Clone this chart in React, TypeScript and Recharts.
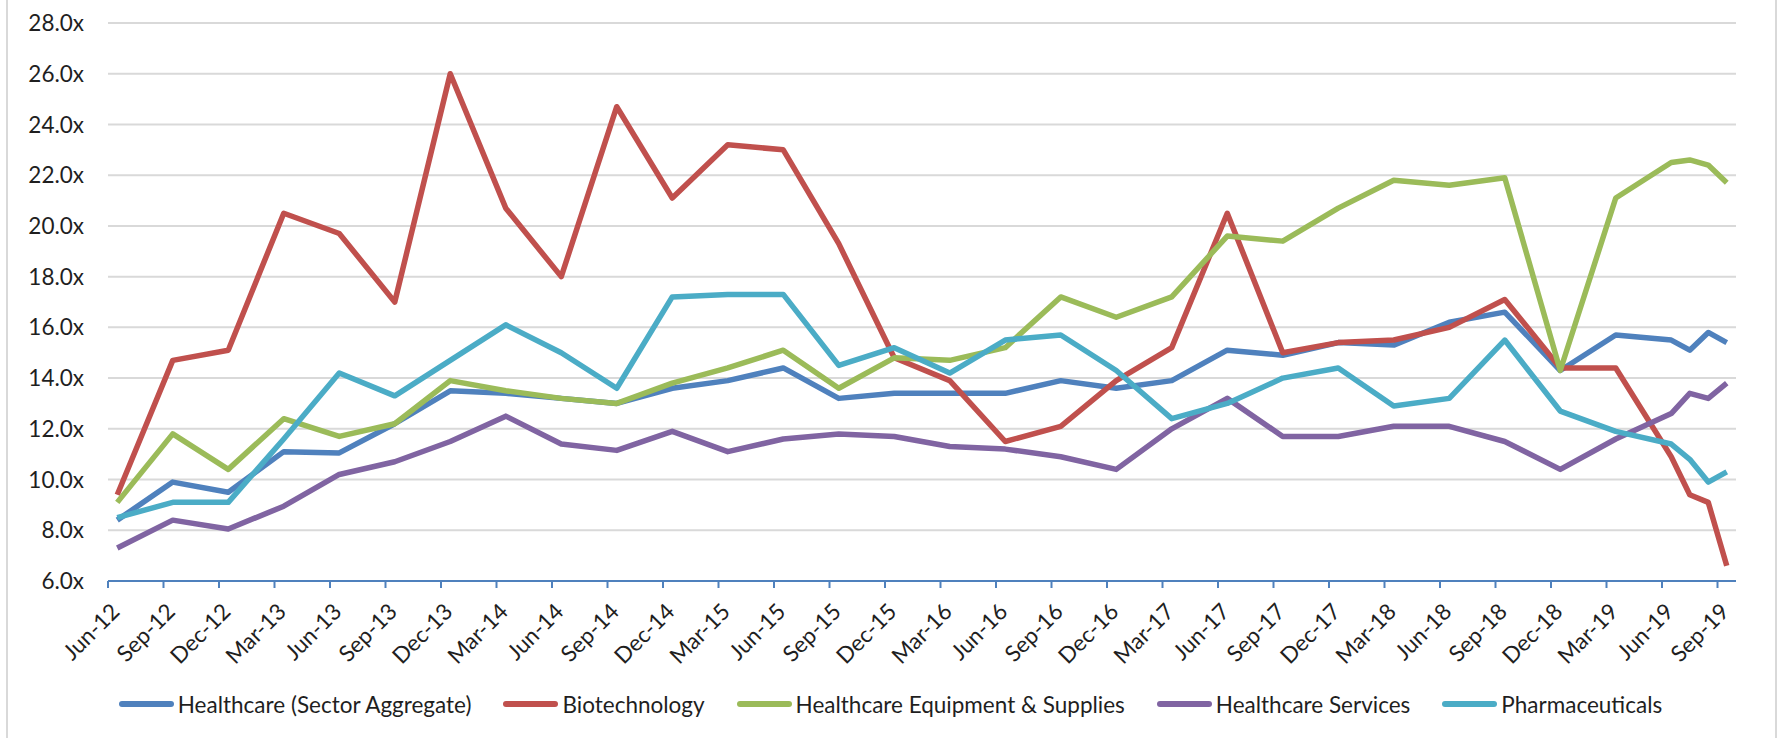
import React from 'react';
import { LineChart, Line, XAxis, YAxis, CartesianGrid } from 'recharts';

// Period labels (quarter ends, then monthly for Jul–Sep 2019)
const periods = [
  'Jun-12', 'Sep-12', 'Dec-12', 'Mar-13', 'Jun-13', 'Sep-13', 'Dec-13', 'Mar-14',
  'Jun-14', 'Sep-14', 'Dec-14', 'Mar-15', 'Jun-15', 'Sep-15', 'Dec-15', 'Mar-16',
  'Jun-16', 'Sep-16', 'Dec-16', 'Mar-17', 'Jun-17', 'Sep-17', 'Dec-17', 'Mar-18',
  'Jun-18', 'Sep-18', 'Dec-18', 'Mar-19', 'Jun-19', 'Jul-19', 'Aug-19', 'Sep-19',
];

const tickLabels = [
  'Jun-12', 'Sep-12', 'Dec-12', 'Mar-13', 'Jun-13', 'Sep-13', 'Dec-13', 'Mar-14',
  'Jun-14', 'Sep-14', 'Dec-14', 'Mar-15', 'Jun-15', 'Sep-15', 'Dec-15', 'Mar-16',
  'Jun-16', 'Sep-16', 'Dec-16', 'Mar-17', 'Jun-17', 'Sep-17', 'Dec-17', 'Mar-18',
  'Jun-18', 'Sep-18', 'Dec-18', 'Mar-19', 'Jun-19', 'Sep-19',
];

const healthcare = [8.4, 9.9, 9.5, 11.1, 11.05, 12.2, 13.5, 13.4, 13.2, 13.0, 13.6, 13.9, 14.4, 13.2, 13.4, 13.4, 13.4, 13.9, 13.6, 13.9, 15.1, 14.9, 15.4, 15.3, 16.2, 16.6, 14.3, 15.7, 15.5, 15.1, 15.8, 15.4];
const biotech = [9.4, 14.7, 15.1, 20.5, 19.7, 17.0, 26.0, 20.7, 18.0, 24.7, 21.1, 23.2, 23.0, 19.3, 14.8, 13.9, 11.5, 12.1, 13.9, 15.2, 20.5, 15.0, 15.4, 15.5, 16.0, 17.1, 14.4, 14.4, 10.9, 9.4, 9.1, 6.6];
const equipment = [9.1, 11.8, 10.4, 12.4, 11.7, 12.2, 13.9, 13.5, 13.2, 13.0, 13.8, 14.4, 15.1, 13.6, 14.8, 14.7, 15.2, 17.2, 16.4, 17.2, 19.6, 19.4, 20.7, 21.8, 21.6, 21.9, 14.3, 21.1, 22.5, 22.6, 22.4, 21.7];
const services = [7.3, 8.4, 8.05, 8.95, 10.2, 10.7, 11.5, 12.5, 11.4, 11.15, 11.9, 11.1, 11.6, 11.8, 11.7, 11.3, 11.2, 10.9, 10.4, 12.0, 13.2, 11.7, 11.7, 12.1, 12.1, 11.5, 10.4, 11.6, 12.6, 13.4, 13.2, 13.8];
const pharma = [8.5, 9.1, 9.1, 11.6, 14.2, 13.3, 14.7, 16.1, 15.0, 13.6, 17.2, 17.3, 17.3, 14.5, 15.2, 14.2, 15.5, 15.7, 14.3, 12.4, 13.0, 14.0, 14.4, 12.9, 13.2, 15.5, 12.7, 11.9, 11.4, 10.8, 9.9, 10.3];

const yTicks = [6, 8, 10, 12, 14, 16, 18, 20, 22, 24, 26, 28];

const series = [
  { key: 'healthcare', name: 'Healthcare (Sector Aggregate)', color: '#4f81bd', values: healthcare },
  { key: 'biotech', name: 'Biotechnology', color: '#c0504d', values: biotech },
  { key: 'equipment', name: 'Healthcare Equipment & Supplies', color: '#9bbb59', values: equipment },
  { key: 'services', name: 'Healthcare Services', color: '#8064a2', values: services },
  { key: 'pharma', name: 'Pharmaceuticals', color: '#4bacc6', values: pharma },
];

const MONTHS = ['Jan', 'Feb', 'Mar', 'Apr', 'May', 'Jun', 'Jul', 'Aug', 'Sep', 'Oct', 'Nov', 'Dec'];
// months since Jun-2012
const monthIndex = (label: string) => {
  const [mon, yr] = label.split('-');
  return (Number(yr) - 12) * 12 + MONTHS.indexOf(mon) - 5;
};

const chartData = periods.map((p, i) => {
  const row: Record<string, number | string> = { label: p, m: monthIndex(p) + 0.5 };
  series.forEach((s) => { row[s.key] = s.values[i]; });
  return row;
});

const tickPositions = tickLabels.map(monthIndex);
const tickNames: Record<number, string> = {};
tickLabels.forEach((t) => { tickNames[monthIndex(t)] = t; });

const FONT = 'Lato, "Open Sans", sans-serif';
const TEXT = '#1f1f1f';
const FS = 22.5;

const XTick = (props: any) => {
  const { x, y, payload } = props;
  const tx = x + 13;
  const ty = y + 23;
  return (
    <text x={tx} y={ty} textAnchor="end" fontSize={FS} fill={TEXT} fontFamily={FONT}
      transform={`rotate(-45 ${tx} ${ty})`}>
      {tickNames[payload.value]}
    </text>
  );
};

const YTick = (props: any) => {
  const { x, y, payload } = props;
  return (
    <text x={x} y={y} dy="0.36em" textAnchor="end" fontSize={FS} fill={TEXT} fontFamily={FONT}>
      {payload.value.toFixed(1) + 'x'}
    </text>
  );
};

export default function App() {
  return (
    <div style={{ position: 'absolute', left: 0, top: 0, width: 1781, height: 738, background: '#fff', fontFamily: FONT }}>
      <div style={{ position: 'absolute', left: 6, top: 0, width: 2, height: 738, background: '#d9d9d9' }} />
      <div style={{ position: 'absolute', left: 1775, top: 0, width: 2, height: 738, background: '#d9d9d9' }} />
      <LineChart width={1781} height={738} data={chartData} margin={{ top: 23, right: 45, bottom: 0, left: 0 }}>
        <CartesianGrid vertical={false} stroke="#d9d9d9" strokeWidth={2} />
        <XAxis
          dataKey="m"
          type="number"
          domain={[0, 88]}
          ticks={tickPositions}
          interval={0}
          height={157}
          stroke="#4f81bd"
          strokeWidth={2}
          tickSize={7}
          tick={<XTick />}
        />
        <YAxis
          domain={[6, 28]}
          ticks={yTicks}
          width={108}
          axisLine={false}
          tickLine={false}
          tickSize={0}
          tickMargin={24}
          tick={<YTick />}
        />
        {series.map((s) => (
          <Line
            key={s.key}
            dataKey={s.key}
            name={s.name}
            type="linear"
            stroke={s.color}
            strokeWidth={5.5}
            strokeLinejoin="round"
            dot={false}
            isAnimationActive={false}
          />
        ))}
      </LineChart>
      <div style={{ position: 'absolute', left: 0, top: 689, width: 1781, display: 'flex', justifyContent: 'center', gap: 32, fontSize: FS, color: TEXT }}>
        {series.map((s) => (
          <div key={s.key} style={{ display: 'flex', alignItems: 'center', gap: 4, height: 30 }}>
            <div style={{ width: 55, height: 5.5, borderRadius: 3, background: s.color }} />
            <span>{s.name}</span>
          </div>
        ))}
      </div>
    </div>
  );
}
